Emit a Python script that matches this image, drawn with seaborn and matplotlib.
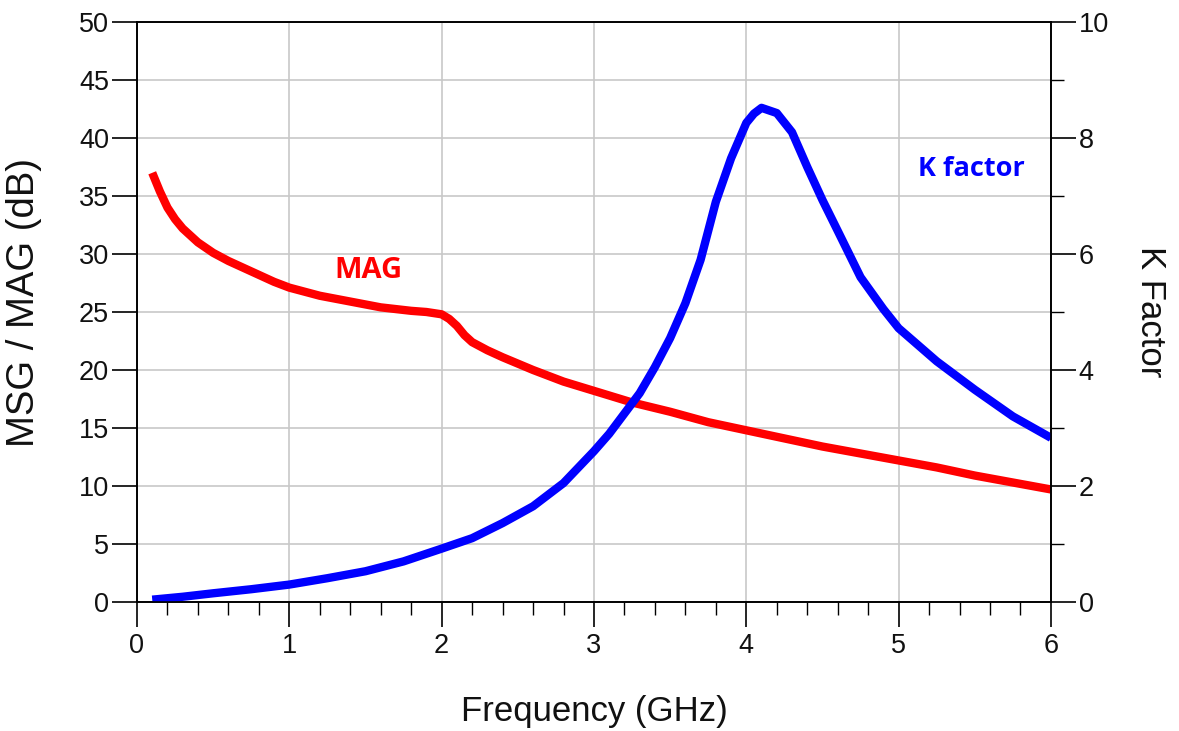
import pandas as pd
import numpy as np
import matplotlib.pyplot as plt
import seaborn as sns
from matplotlib.ticker import MultipleLocator

# MAG curve (left axis, dB)
freq_mag = [0.1, 0.15, 0.2, 0.25, 0.3, 0.4, 0.5, 0.6, 0.7, 0.8, 0.9, 1.0, 1.2, 1.4,
            1.6, 1.8, 1.9, 2.0, 2.05, 2.1, 2.15, 2.2, 2.3, 2.4, 2.6, 2.8, 3.0,
            3.25, 3.5, 3.75, 4.0, 4.25, 4.5, 4.75, 5.0, 5.25, 5.5, 5.75, 6.0]
mag_db = [37.0, 35.4, 34.0, 33.0, 32.2, 31.0, 30.1, 29.4, 28.8, 28.2, 27.6, 27.1,
          26.4, 25.9, 25.4, 25.1, 25.0, 24.8, 24.4, 23.8, 23.0, 22.4, 21.7, 21.1,
          20.0, 19.0, 18.2, 17.2, 16.4, 15.5, 14.8, 14.1, 13.4, 12.8, 12.2, 11.6,
          10.9, 10.3, 9.7]

# K factor curve (right axis)
freq_k = [0.1, 0.3, 0.5, 0.75, 1.0, 1.25, 1.5, 1.75, 2.0, 2.2, 2.4, 2.6, 2.8, 3.0,
          3.1, 3.2, 3.3, 3.4, 3.5, 3.6, 3.7, 3.8, 3.9, 4.0, 4.05, 4.1, 4.2, 4.3,
          4.4, 4.5, 4.6, 4.75, 4.9, 5.0, 5.25, 5.5, 5.75, 6.0]
k_factor = [0.04, 0.09, 0.15, 0.22, 0.3, 0.41, 0.53, 0.7, 0.92, 1.1, 1.36, 1.65,
            2.05, 2.6, 2.9, 3.25, 3.6, 4.05, 4.55, 5.15, 5.9, 6.9, 7.65, 8.26,
            8.42, 8.52, 8.43, 8.1, 7.5, 6.93, 6.4, 5.6, 5.05, 4.72, 4.15, 3.66,
            3.2, 2.83]

df_mag = pd.DataFrame({"Frequency": freq_mag, "MAG": mag_db})
df_k = pd.DataFrame({"Frequency": freq_k, "K": k_factor})

sns.set_style("white")
plt.rcParams["font.family"] = ["Liberation Sans", "DejaVu Sans"]
plt.rcParams["text.color"] = "#111111"
plt.rcParams["axes.labelcolor"] = "#111111"

fig = plt.figure(figsize=(11.79, 7.31), dpi=100)
ax = fig.add_axes([0.1162, 0.1765, 0.7752, 0.7934])
ax2 = ax.twinx()

sns.lineplot(data=df_mag, x="Frequency", y="MAG", color="#ff0000", linewidth=6,
             ax=ax, solid_capstyle="butt")
sns.lineplot(data=df_k, x="Frequency", y="K", color="#0000ff", linewidth=6,
             ax=ax2, solid_capstyle="butt")

ax.set_xlim(0, 6)
ax.set_ylim(0, 50)
ax2.set_ylim(0, 10)

ax.xaxis.set_major_locator(MultipleLocator(1))
ax.xaxis.set_minor_locator(MultipleLocator(0.2))
ax.yaxis.set_major_locator(MultipleLocator(5))
ax2.yaxis.set_major_locator(MultipleLocator(2))
ax2.yaxis.set_minor_locator(MultipleLocator(1))

ax.grid(True, which="major", color="#c8c8c8", linewidth=1.2)
ax.set_axisbelow(True)

for a in (ax, ax2):
    for s in a.spines.values():
        s.set_color("black")
        s.set_linewidth(1.2)

ax.tick_params(axis="x", which="both", bottom=True, top=False)
ax.tick_params(axis="y", which="both", left=True, right=False)
ax.tick_params(axis="x", which="major", direction="out", length=18, width=1.2,
               labelsize=19.5, pad=4, color="black", labelcolor="#111111")
ax.tick_params(axis="x", which="minor", direction="out", length=9, width=1.0,
               color="black")
ax.tick_params(axis="y", which="major", direction="out", length=18, width=1.2,
               labelsize=19.5, pad=2, color="black", labelcolor="#111111")
ax2.tick_params(axis="y", which="both", right=True, left=False)
ax2.tick_params(axis="y", which="major", direction="out", length=18, width=1.2,
                labelsize=19.5, pad=2, color="black", labelcolor="#111111")
ax2.tick_params(axis="y", which="minor", direction="out", length=9, width=1.0,
                color="black")

ax.set_xlabel("Frequency (GHz)", fontsize=25, labelpad=26)
ax.set_ylabel("MSG / MAG (dB)", fontsize=27.5)
ax.yaxis.set_label_coords(-0.104, 0.517)
ax2.set_ylabel("K Factor", fontsize=25, rotation=-90, labelpad=42)

ax.text(1.52, 28.6, "MAG", color="#ff0000", fontsize=21, fontweight="bold",
        ha="center", va="center", family=["Open Sans", "DejaVu Sans"])
ax2.text(5.48, 7.46, "K factor", color="#0000ff", fontsize=19.5, fontweight="bold",
         ha="center", va="center", family=["Open Sans", "DejaVu Sans"])

fig.savefig("out.png", dpi=100)
